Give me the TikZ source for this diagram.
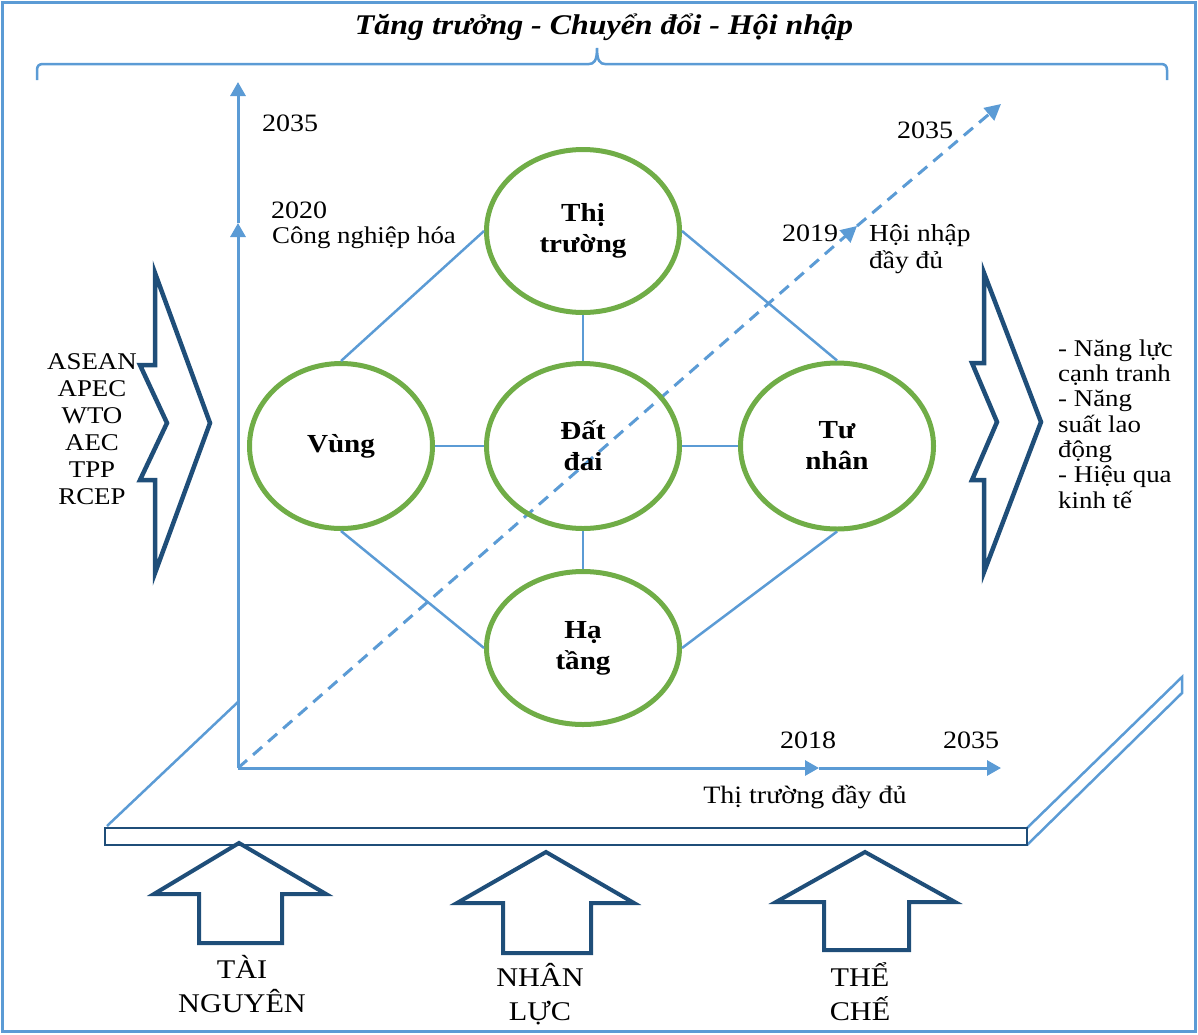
\documentclass[tikz,border=0pt]{standalone}
\usepackage{fontspec}
\setmainfont{Liberation Serif}[FakeStretch=1.12]
\usetikzlibrary{arrows.meta,shapes.geometric}
\definecolor{axisblue}{RGB}{91,155,213}
\definecolor{navy}{RGB}{31,78,121}
\definecolor{leafgreen}{RGB}{112,173,71}
\begin{document}
\begin{tikzpicture}[x=1pt,y=-1pt,
  ring/.style={ellipse,draw=leafgreen,line width=5pt,inner sep=0pt,align=center,
    font=\bfseries\fontsize{26}{31}\selectfont},
  conn/.style={draw=axisblue,line width=2.5pt},
  axisline/.style={draw=axisblue,line width=3pt,-{Triangle[length=14pt,width=15pt]}},
  dashaxis/.style={draw=axisblue,line width=3pt,dash pattern=on 12pt off 8pt,
    -{Triangle[length=16pt,width=16pt]}},
  chevron/.style={draw=navy,line width=4.5pt,line join=miter},
  bigarrow/.style={draw=navy,line width=4pt,line join=miter},
  lbl/.style={inner sep=0pt,font=\fontsize{25}{27}\selectfont},
  capslbl/.style={inner sep=0pt,align=center,font=\fontsize{27}{34}\selectfont}]
\useasboundingbox (0,0) rectangle (1198,1034);
% outer frame
\draw[axisblue,line width=3pt] (2,2) rectangle (1195,1031);
% title and brace
\node[inner sep=0pt,font=\bfseries\itshape\fontsize{28.5}{30}\selectfont] (title) at (604,27)
  {Tăng trưởng - Chuyển đổi - Hội nhập};
\draw[axisblue,line width=2.5pt] (37,80) -- (37,70) .. controls (37,66) and (39,64) .. (43,64)
  -- (589,64) .. controls (594,64) and (597,61) .. (597,48)
  .. controls (597,61) and (600,64) .. (605,64) -- (1161,64)
  .. controls (1165,64) and (1167,66) .. (1167,70) -- (1167,80);
% platform
\draw[axisblue,line width=2.5pt] (107,826) -- (238,702);
\draw[axisblue,line width=2.5pt,line join=miter] (1027,828) -- (1182,677) -- (1182,693) -- (1027,845);
\draw[navy,line width=2.5pt] (105,828) rectangle (1027,845);
% axes
\coordinate (O) at (238,768);
\coordinate (ymid) at (238,223);
\coordinate (ytop) at (238,82);
\coordinate (xmid) at (819,768);
\coordinate (xend) at (1001,768);
\coordinate (dmid) at (857,226);
\coordinate (dend) at (1001,104);
\draw[axisline] (O) -- (ymid);
\draw[axisline] (ymid) -- (ytop);
\draw[axisline] (O) -- (xmid);
\draw[axisline] (xmid) -- (xend);
\draw[dashaxis] (O) -- (dmid);
\draw[dashaxis] (dmid) -- (dend);
% axis labels
\node[lbl] (y2035) at (290,123) {2035};
\node[lbl] (y2020) at (299,210) {2020};
\node[lbl,anchor=west,font=\fontsize{24}{27}\selectfont] (cnh) at (272,238) {Công nghiệp hóa};
\node[lbl] (d2035) at (925,130) {2035};
\node[lbl] (d2019) at (810,233) {2019};
\node[lbl,anchor=west,align=left,font=\fontsize{24.5}{27}\selectfont] (hn) at (869,249) {Hội nhập\\đầy đủ};
\node[lbl] (x2018) at (808,740) {2018};
\node[lbl] (x2035) at (971,740) {2035};
\node[lbl] (ttdd) at (805,797) {Thị trường đầy đủ};
% circles
\node[ring,minimum width=193pt,minimum height=163pt] (tt) at (583,231) {Thị\\trường};
\node[ring,minimum width=183pt,minimum height=165pt] (vung) at (341,446) {Vùng};
\node[ring,minimum width=193pt,minimum height=165pt] (datdai) at (583,446) {Đất\\đai};
\node[ring,minimum width=193pt,minimum height=166pt] (tunhan) at (837,446) {Tư\\nhân};
\node[ring,minimum width=193pt,minimum height=153pt] (hatang) at (583,648) {Hạ\\tầng};
\draw[conn] (tt.west) -- (vung.north);
\draw[conn] (tt.east) -- (tunhan.north);
\draw[conn] (vung.south) -- (hatang.west);
\draw[conn] (tunhan.south) -- (hatang.east);
\draw[conn] (vung.east) -- (datdai.west);
\draw[conn] (datdai.east) -- (tunhan.west);
\draw[conn] (tt.south) -- (datdai.north);
\draw[conn] (datdai.south) -- (hatang.north);
% left chevron
\draw[chevron] (155,273) -- (155,365) -- (140,365) -- (167,423) -- (140,480) -- (155,480)
  -- (155,573) -- (210,423) -- cycle;
\node[lbl,align=center,font=\fontsize{24}{27}\selectfont] (orgs) at (92,429)
  {ASEAN\\APEC\\WTO\\AEC\\TPP\\RCEP};
% right chevron
\draw[chevron] (984,273) -- (984,363) -- (972,363) -- (997,422) -- (972,480) -- (984,480)
  -- (984,572) -- (1041,422) -- cycle;
\node[lbl,anchor=west,align=left,font=\fontsize{24}{25.3}\selectfont] (results) at (1058,424)
  {- Năng lực\\cạnh tranh\\- Năng\\suất lao\\động\\- Hiệu qua\\kinh tế};
% bottom arrows
\draw[bigarrow] (239,843) -- (326,894) -- (282,894) -- (282,943) -- (199,943) -- (199,894)
  -- (154,894) -- cycle;
\draw[bigarrow] (546,852) -- (634,903) -- (591,903) -- (591,953) -- (503,953) -- (503,903)
  -- (457,903) -- cycle;
\draw[bigarrow] (865,852) -- (955,902) -- (909,902) -- (909,950) -- (824,950) -- (824,902)
  -- (776,902) -- cycle;
\node[capslbl] (tainguyen) at (242,984) {TÀI\\NGUYÊN};
\node[capslbl] (nhanluc) at (540,994) {NHÂN\\LỰC};
\node[capslbl] (thieche) at (860,992) {THỂ\\CHẾ};
\end{tikzpicture}
\end{document}
